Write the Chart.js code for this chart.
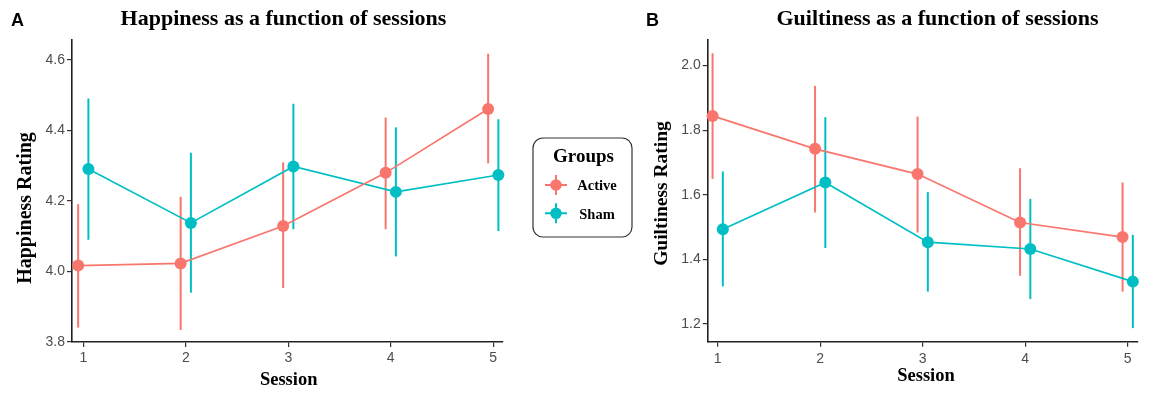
<!DOCTYPE html>
<html><head><meta charset="utf-8">
<script src="https://cdn.jsdelivr.net/npm/chart.js@4.4.1/dist/chart.umd.min.js"></script>
<style>
html,body{margin:0;padding:0;background:#fff;width:1152px;height:395px;overflow:hidden}
#c1{position:absolute;left:0;top:0}
#c2{position:absolute;left:640px;top:0}
</style></head><body>
<canvas id="c1" width="640" height="395"></canvas>
<canvas id="c2" width="512" height="395"></canvas>
<script>
const sessions = [1, 2, 3, 4, 5];
const groups = ['Active', 'Sham'];
const groupColors = ['#F8766D', '#00BFC4'];

const happinessActive     = [4.017, 4.023, 4.129, 4.280, 4.461];
const happinessActiveLow  = [3.841, 3.834, 3.953, 4.120, 4.307];
const happinessActiveHigh = [4.191, 4.212, 4.310, 4.437, 4.618];
const happinessSham       = [4.291, 4.138, 4.298, 4.226, 4.274];
const happinessShamLow    = [4.090, 3.940, 4.120, 4.043, 4.115];
const happinessShamHigh   = [4.491, 4.337, 4.476, 4.409, 4.432];

const guiltActive     = [1.844, 1.742, 1.664, 1.514, 1.469];
const guiltActiveLow  = [1.649, 1.545, 1.483, 1.349, 1.300];
const guiltActiveHigh = [2.038, 1.937, 1.842, 1.682, 1.638];
const guiltSham       = [1.493, 1.638, 1.453, 1.432, 1.331];
const guiltShamLow    = [1.316, 1.435, 1.300, 1.277, 1.187];
const guiltShamHigh   = [1.672, 1.840, 1.608, 1.587, 1.476];

const happinessTicks = [3.8, 4.0, 4.2, 4.4, 4.6];
const guiltTicks = [1.2, 1.4, 1.6, 1.8, 2.0];

const DODGE = 0.05;
const SERIF = '"Liberation Serif", "Times New Roman", serif';
const SANS = '"Liberation Sans", Arial, sans-serif';

const errorBars = {
  id: 'errorBars',
  beforeDatasetsDraw(chart) {
    const ctx = chart.ctx, xs = chart.scales.x, ys = chart.scales.y;
    chart.data.datasets.forEach(ds => {
      ctx.save();
      ctx.strokeStyle = ds.borderColor;
      ctx.lineWidth = 2;
      ds.data.forEach((p, j) => {
        const x = xs.getPixelForValue(p.x);
        ctx.beginPath();
        ctx.moveTo(x, ys.getPixelForValue(ds.errLow[j]));
        ctx.lineTo(x, ys.getPixelForValue(ds.errHigh[j]));
        ctx.stroke();
      });
      ctx.restore();
    });
  }
};

const decor = {
  id: 'decor',
  afterDraw(chart, args, o) {
    const ctx = chart.ctx;
    ctx.save();
    ctx.fillStyle = '#000';
    ctx.textBaseline = 'alphabetic';
    ctx.textAlign = 'left';
    ctx.font = 'bold 18px ' + SANS;
    ctx.fillText(o.letter, o.letterX, 26);
    ctx.textAlign = 'center';
    ctx.font = 'bold 22px ' + SERIF;
    ctx.fillText(o.title, o.titleX, 24.5);
    ctx.font = 'bold 18.5px ' + SERIF;
    ctx.fillText(o.xTitle, o.xTitleX, o.xTitleY);
    ctx.save();
    ctx.translate(o.yTitleX, o.yTitleY);
    ctx.rotate(-Math.PI / 2);
    ctx.font = 'bold ' + o.yTitleSize + 'px ' + SERIF;
    ctx.fillText(o.yTitle, 0, 0);
    ctx.restore();
    if (o.legend) {
      const L = o.legend;
      ctx.beginPath();
      const r = 10, x0 = L.x, y0 = L.y, x1 = L.x + L.w, y1 = L.y + L.h;
      ctx.moveTo(x0 + r, y0);
      ctx.lineTo(x1 - r, y0); ctx.arcTo(x1, y0, x1, y0 + r, r);
      ctx.lineTo(x1, y1 - r); ctx.arcTo(x1, y1, x1 - r, y1, r);
      ctx.lineTo(x0 + r, y1); ctx.arcTo(x0, y1, x0, y1 - r, r);
      ctx.lineTo(x0, y0 + r); ctx.arcTo(x0, y0, x0 + r, y0, r);
      ctx.closePath();
      ctx.strokeStyle = '#333'; ctx.lineWidth = 1.2; ctx.stroke();
      ctx.fillStyle = '#000';
      ctx.font = 'bold 19px ' + SERIF;
      ctx.fillText('Groups', L.x + 50.5, L.y + 24);
      chart.data.datasets.forEach((ds, i) => {
        const cy = L.y + 47 + i * 28.3, cx = L.x + 23;
        ctx.strokeStyle = ds.borderColor; ctx.lineWidth = 2;
        ctx.beginPath();
        ctx.moveTo(cx - 11, cy); ctx.lineTo(cx + 11, cy);
        ctx.moveTo(cx, cy - 10); ctx.lineTo(cx, cy + 10);
        ctx.stroke();
        ctx.fillStyle = ds.borderColor;
        ctx.beginPath(); ctx.arc(cx, cy, 5.8, 0, Math.PI * 2); ctx.fill();
        ctx.fillStyle = '#000';
        ctx.font = 'bold 14.5px ' + SERIF;
        ctx.fillText(ds.label, L.x + 64, cy + 5.3);
      });
    }
    ctx.restore();
  }
};

function makeDataset(i, vals, lo, hi) {
  const off = i === 0 ? -DODGE : DODGE;
  return {
    label: groups[i],
    data: sessions.map((s, j) => ({x: s + off, y: vals[j]})),
    errLow: lo, errHigh: hi,
    borderColor: groupColors[i],
    backgroundColor: groupColors[i],
    pointBackgroundColor: groupColors[i],
    pointBorderWidth: 0,
    pointRadius: 6,
    borderWidth: 1.7,
    tension: 0,
    clip: false
  };
}

function makeChart(id, cfg) {
  const tickFont = {family: SANS, size: 14};
  return new Chart(document.getElementById(id), {
    type: 'line',
    data: {datasets: [
      makeDataset(0, cfg.a, cfg.aLo, cfg.aHi),
      makeDataset(1, cfg.s, cfg.sLo, cfg.sHi)
    ]},
    options: {
      responsive: false, animation: false, devicePixelRatio: 1,
      layout: {padding: {left: 0, top: 40, right: cfg.padRight, bottom: 0}},
      plugins: {legend: {display: false}, tooltip: {enabled: false}, decor: cfg.decor},
      scales: {
        x: {
          type: 'linear', min: cfg.xMin, max: cfg.xMax,
          afterBuildTicks: s => { s.ticks = sessions.map(v => ({value: v})); },
          afterFit: s => { s.height = cfg.xAxisH; },
          ticks: {font: tickFont, color: '#4d4d4d', padding: cfg.xPad, maxRotation: 0, callback: v => String(v)},
          grid: {display: true, drawOnChartArea: false, drawTicks: true, tickLength: 5, color: '#333', lineWidth: 1.2},
          border: {display: true, color: '#222', width: 1.6}
        },
        y: {
          type: 'linear', min: cfg.yMin, max: cfg.yMax,
          afterBuildTicks: s => { s.ticks = cfg.yTicks.map(v => ({value: v})); },
          afterFit: s => { s.width = cfg.yAxisW; },
          ticks: {font: tickFont, color: '#4d4d4d', padding: 2, callback: v => Number(v).toFixed(1)},
          grid: {display: true, drawOnChartArea: false, drawTicks: true, tickLength: 5, color: '#333', lineWidth: 1.2},
          border: {display: true, color: '#222', width: 1.6}
        }
      }
    },
    plugins: [errorBars, decor]
  });
}

makeChart('c1', {
  a: happinessActive, aLo: happinessActiveLow, aHi: happinessActiveHigh,
  s: happinessSham, sLo: happinessShamLow, sHi: happinessShamHigh,
  xMin: 0.89, xMax: 5.095, yMin: 3.8, yMax: 4.657, yTicks: happinessTicks,
  padRight: 137, xAxisH: 53, yAxisW: 72, xPad: 3,
  decor: {
    letter: 'A', letterX: 11, title: 'Happiness as a function of sessions', titleX: 283.5,
    xTitle: 'Session', xTitleX: 288.7, xTitleY: 385,
    yTitle: 'Happiness Rating', yTitleX: 30.7, yTitleY: 208, yTitleSize: 20,
    legend: {x: 533, y: 138, w: 99, h: 99}
  }
});

makeChart('c2', {
  a: guiltActive, aLo: guiltActiveLow, aHi: guiltActiveHigh,
  s: guiltSham, sLo: guiltShamLow, sHi: guiltShamHigh,
  xMin: 0.9024, xMax: 5.0976, yMin: 1.145, yMax: 2.079, yTicks: guiltTicks,
  padRight: 14.3, xAxisH: 53.3, yAxisW: 67.7, xPad: 4,
  decor: {
    letter: 'B', letterX: 6, title: 'Guiltiness as a function of sessions', titleX: 297.5,
    xTitle: 'Session', xTitleX: 286, xTitleY: 381,
    yTitle: 'Guiltiness Rating', yTitleX: 27.3, yTitleY: 193.5, yTitleSize: 19.5,
    legend: null
  }
});
</script>
</body></html>
